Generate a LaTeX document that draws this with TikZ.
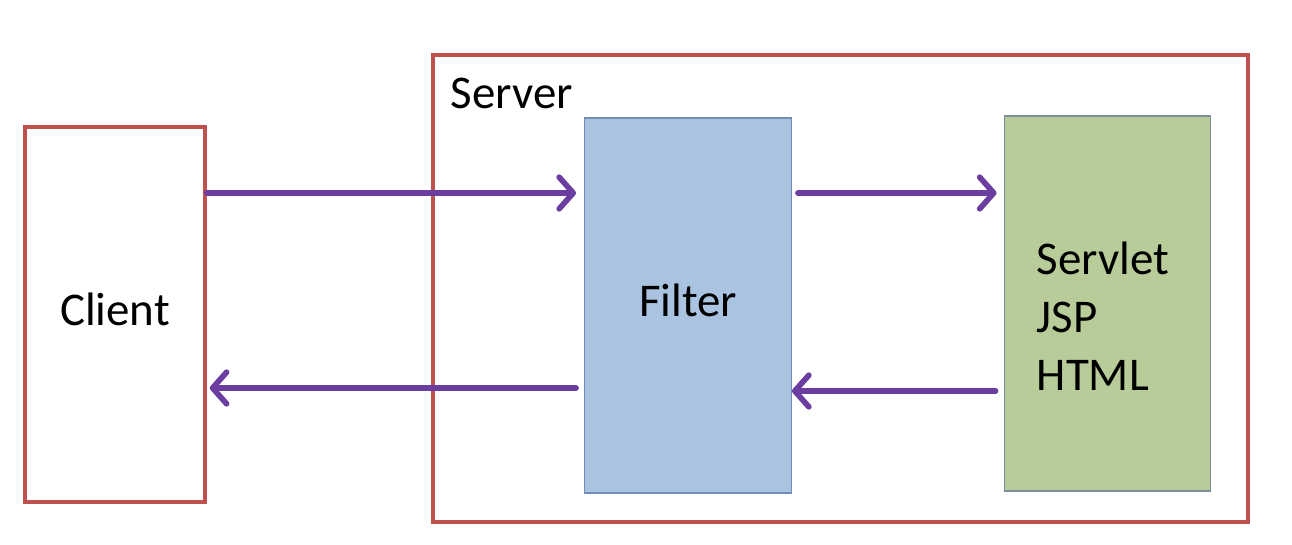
\documentclass[tikz,border=0pt]{standalone}
\usepackage{fontspec}
\setmainfont{Carlito}
\usetikzlibrary{arrows.meta, positioning, calc}
\definecolor{frame}{HTML}{C0504D}
\definecolor{arrowpurple}{HTML}{6A3D9F}
\definecolor{filterfill}{HTML}{AAC3E1}
\definecolor{filterline}{HTML}{6F8FB8}
\definecolor{servfill}{HTML}{B7CC99}
\definecolor{servline}{HTML}{7D8E9C}

\begin{document}
\begin{tikzpicture}[
  box/.style={draw=frame, line width=2pt, fill=white, text depth=0.2cm},
  part/.style={minimum width=4.13cm, minimum height=7.5cm, line width=0.8pt},
  msg/.style={draw=arrowpurple, line width=3.2pt, line cap=round,
    -{Straight Barb[length=8pt, width=18pt, line cap=round, line join=round]}},
  font=\fontsize{26.7}{32.9}\selectfont
]
\useasboundingbox (0,0) rectangle (25.84,10.88);
% Server frame and its label
\node[box, minimum width=16.3cm, minimum height=9.34cm] (server) at (16.81,5.11) {};
\node[anchor=west, inner sep=0] (serverlbl) at ($(server.north west)+(0.38,-0.8)$) {Server};
% Client outside the server
\node[box, minimum width=3.6cm, minimum height=7.5cm] (client) at (2.3,4.59) {Client};
% Filter and target inside the server
\node[part, draw=filterline, fill=filterfill, text depth=0.2cm] (filter) at (13.76,4.77) {Filter};
\node[part, draw=servline, fill=servfill] (target) at (22.15,4.81) {};
\node[anchor=west, align=left, inner sep=0] (targettxt) at ($(target.west)+(0.66,-0.25)$) {Servlet\\JSP\\HTML};
% Request path
\draw[msg] (client.east |- 0,7.02) -- ([xshift=-0.16cm]filter.west |- 0,7.02);
\draw[msg] ([xshift=0.12cm]filter.east |- 0,7.02) -- ([xshift=-0.14cm]target.west |- 0,7.02);
% Response path
\draw[msg] ([xshift=-0.16cm]target.west |- 0,3.06) -- (filter.east |- 0,3.06);
\draw[msg] ([xshift=-0.16cm]filter.west |- 0,3.12) -- ([xshift=0.06cm]client.east |- 0,3.12);
\end{tikzpicture}
\end{document}
